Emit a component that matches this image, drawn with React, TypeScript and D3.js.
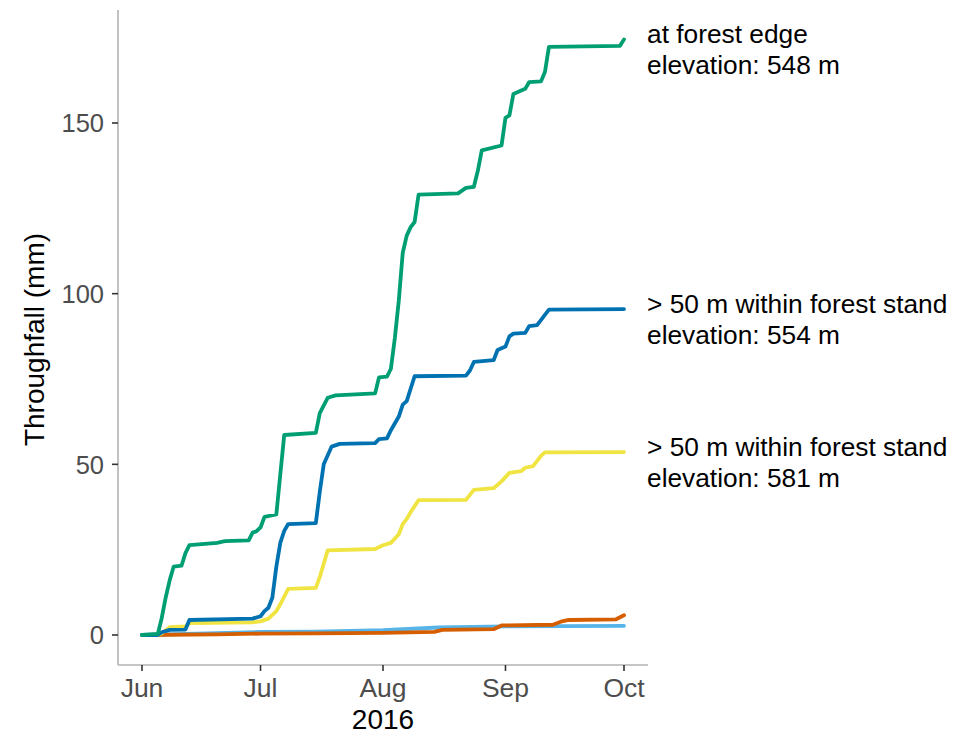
import React from "react";
import * as d3 from "d3";

const monthTicks = ["2016-06-01", "2016-07-01", "2016-08-01", "2016-09-01", "2016-10-01"];
const monthLabels = ["Jun", "Jul", "Aug", "Sep", "Oct"];
const yTicks = [0, 50, 100, 150];
const xTitle = "2016";
const yTitle = "Throughfall (mm)";

const forestEdge: [string, number][] = [
  ["2016-06-01", 0], ["2016-06-05", 0.3], ["2016-06-06", 5], ["2016-06-07", 11], ["2016-06-08", 16],
  ["2016-06-09", 20], ["2016-06-11", 20.3], ["2016-06-12", 24], ["2016-06-13", 26.3], ["2016-06-20", 27],
  ["2016-06-22", 27.5], ["2016-06-28", 27.7], ["2016-06-29", 30], ["2016-06-30", 30.4], ["2016-07-01", 31.5],
  ["2016-07-02", 34.6], ["2016-07-05", 35.3], ["2016-07-06", 47], ["2016-07-07", 58.6], ["2016-07-15", 59.2],
  ["2016-07-16", 65], ["2016-07-18", 69.5], ["2016-07-20", 70.2], ["2016-07-30", 70.8], ["2016-07-31", 75.5],
  ["2016-08-02", 75.7], ["2016-08-03", 78], ["2016-08-04", 87], ["2016-08-05", 98], ["2016-08-06", 112],
  ["2016-08-07", 117], ["2016-08-08", 119.5], ["2016-08-09", 121], ["2016-08-10", 129], ["2016-08-20", 129.4],
  ["2016-08-22", 131], ["2016-08-24", 131.3], ["2016-08-25", 136], ["2016-08-26", 142], ["2016-08-31", 143.4],
  ["2016-09-01", 151.5], ["2016-09-02", 152.2], ["2016-09-03", 158.5], ["2016-09-06", 160], ["2016-09-07", 162],
  ["2016-09-10", 162.2], ["2016-09-11", 165], ["2016-09-12", 172.3], ["2016-09-30", 172.6], ["2016-10-01", 174.5],
];

const standA: [string, number][] = [
  ["2016-06-01", 0], ["2016-06-05", 0], ["2016-06-06", 0.8], ["2016-06-08", 1.5], ["2016-06-12", 1.6],
  ["2016-06-13", 4.4], ["2016-06-29", 4.8], ["2016-07-01", 5.5], ["2016-07-02", 7], ["2016-07-03", 8],
  ["2016-07-04", 11], ["2016-07-05", 20], ["2016-07-06", 27], ["2016-07-07", 30.5], ["2016-07-08", 32.5],
  ["2016-07-15", 32.8], ["2016-07-16", 42], ["2016-07-17", 50], ["2016-07-19", 55.2], ["2016-07-21", 56],
  ["2016-07-30", 56.2], ["2016-07-31", 57.4], ["2016-08-02", 57.6], ["2016-08-03", 60], ["2016-08-05", 64],
  ["2016-08-06", 67.5], ["2016-08-07", 68.5], ["2016-08-09", 75.8], ["2016-08-22", 76], ["2016-08-23", 77.5],
  ["2016-08-24", 80], ["2016-08-29", 80.5], ["2016-08-30", 83.5], ["2016-09-01", 84.5], ["2016-09-02", 87.5],
  ["2016-09-03", 88.3], ["2016-09-06", 88.5], ["2016-09-07", 90.5], ["2016-09-09", 90.8], ["2016-09-12", 95.3],
  ["2016-10-01", 95.5],
];

const standB: [string, number][] = [
  ["2016-06-01", 0], ["2016-06-05", 0], ["2016-06-06", 0.5], ["2016-06-08", 2.3], ["2016-06-12", 2.5],
  ["2016-06-13", 3.5], ["2016-06-29", 3.7], ["2016-07-01", 4], ["2016-07-03", 4.8], ["2016-07-05", 7],
  ["2016-07-06", 9], ["2016-07-08", 13.5], ["2016-07-15", 13.8], ["2016-07-16", 17], ["2016-07-18", 24.8],
  ["2016-07-30", 25.2], ["2016-08-01", 26.3], ["2016-08-03", 27], ["2016-08-05", 29.5], ["2016-08-06", 32.5],
  ["2016-08-07", 34], ["2016-08-08", 36], ["2016-08-10", 39.5], ["2016-08-22", 39.6], ["2016-08-24", 42.5],
  ["2016-08-29", 43], ["2016-08-31", 45], ["2016-09-02", 47.5], ["2016-09-05", 48], ["2016-09-06", 49],
  ["2016-09-08", 49.5], ["2016-09-10", 52.5], ["2016-09-11", 53.5], ["2016-10-01", 53.6],
];

const standC: [string, number][] = [
  ["2016-06-01", 0], ["2016-06-15", 0.4], ["2016-07-01", 0.9], ["2016-07-15", 1.0], ["2016-08-01", 1.4],
  ["2016-08-15", 2.2], ["2016-09-01", 2.5], ["2016-09-15", 2.6], ["2016-10-01", 2.7],
];

const standD: [string, number][] = [
  ["2016-06-01", 0], ["2016-06-20", 0.2], ["2016-07-01", 0.4], ["2016-07-15", 0.5], ["2016-08-01", 0.6],
  ["2016-08-14", 0.9], ["2016-08-16", 1.5], ["2016-08-29", 1.7], ["2016-08-31", 2.8], ["2016-09-13", 3.0],
  ["2016-09-15", 3.9], ["2016-09-17", 4.4], ["2016-09-29", 4.6], ["2016-10-01", 5.8],
];

const seriesList = [
  { data: standC, color: "#56B4E9", label: null as string[] | null },
  { data: standD, color: "#D55E00", label: null as string[] | null },
  { data: standB, color: "#F0E442", label: ["> 50 m within forest stand", "elevation: 581 m"] },
  { data: standA, color: "#0072B2", label: ["> 50 m within forest stand", "elevation: 554 m"] },
  { data: forestEdge, color: "#009E73", label: ["at forest edge", "elevation: 548 m"] },
];

const parse = d3.timeParse("%Y-%m-%d");

export default function App() {
  const W = 955;
  const H = 739;
  const panelLeft = 118;
  const panelRight = 648;
  const panelTop = 10;
  const panelBottom = 665;

  const x = d3.scaleTime()
    .domain([parse("2016-06-01")!, parse("2016-10-01")!])
    .range([142, 624]);
  const y = d3.scaleLinear().domain([0, 150]).range([635, 123]);

  const line = d3.line<[string, number]>()
    .x((d) => x(parse(d[0])!))
    .y((d) => y(d[1]))
    .curve(d3.curveLinear);

  const font = "'Liberation Sans', Arial, Helvetica, sans-serif";

  return (
    <svg width={W} height={H} style={{ position: "absolute", left: 0, top: 0, background: "#fff" }} fontFamily={font}>
      <rect x={0} y={0} width={W} height={H} fill="#fff" />
      <line x1={panelLeft} x2={panelLeft} y1={panelTop} y2={panelBottom} stroke="#b3b3b3" strokeWidth={1.6} />
      <line x1={panelLeft} x2={panelRight} y1={panelBottom} y2={panelBottom} stroke="#b3b3b3" strokeWidth={1.6} />
      {yTicks.map((t) => (
        <g key={"y" + t}>
          <line x1={panelLeft - 6} x2={panelLeft} y1={y(t)} y2={y(t)} stroke="#333" strokeWidth={1.6} />
          <text x={panelLeft - 14} y={y(t)} dy="0.36em" textAnchor="end" fontSize={25.5} fill="#4d4d4d">{t}</text>
        </g>
      ))}
      {monthTicks.map((m, i) => (
        <g key={m}>
          <line x1={x(parse(m)!)} x2={x(parse(m)!)} y1={panelBottom} y2={panelBottom + 6} stroke="#333" strokeWidth={1.6} />
          <text x={x(parse(m)!)} y={697} textAnchor="middle" fontSize={26.5} fill="#4d4d4d">{monthLabels[i]}</text>
        </g>
      ))}
      <text x={(panelLeft + panelRight) / 2} y={729} textAnchor="middle" fontSize={28} fill="#000">{xTitle}</text>
      <text transform={`translate(44, ${(panelTop + panelBottom) / 2 + 2}) rotate(-90)`} textAnchor="middle" fontSize={28} fill="#000">{yTitle}</text>
      {seriesList.map((s, i) => (
        <path key={i} d={line(s.data) || ""} fill="none" stroke={s.color} strokeWidth={3.8} strokeLinejoin="round" strokeLinecap="round" />
      ))}
      {seriesList.filter((s) => s.label).map((s, i) => {
        const last = s.data[s.data.length - 1];
        const by = y(last[1]) + 4;
        return (
          <text key={"l" + i} x={647} y={by} fontSize={26.3} fill="#000">
            <tspan x={647}>{s.label![0]}</tspan>
            <tspan x={647} dy={31}>{s.label![1]}</tspan>
          </text>
        );
      })}
    </svg>
  );
}
